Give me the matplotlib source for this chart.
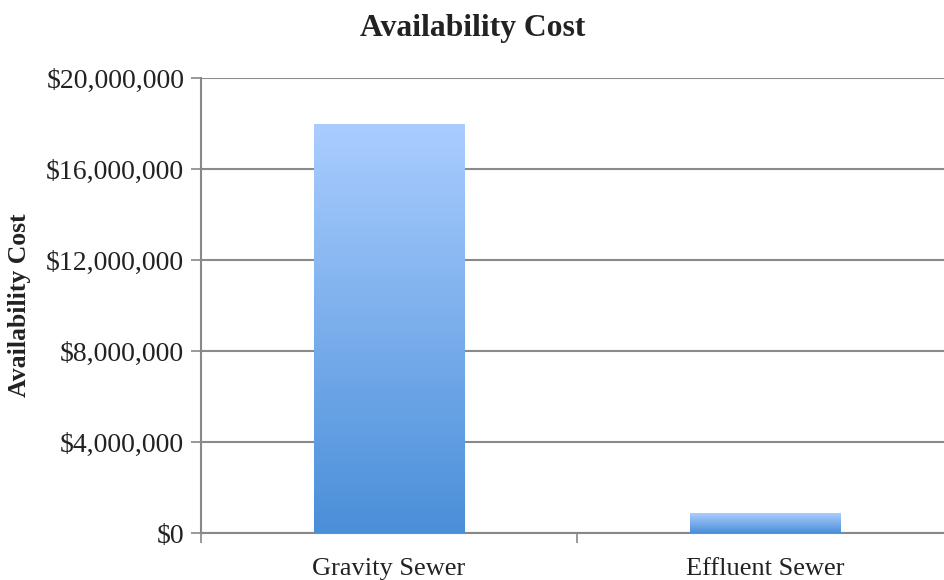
import numpy as np
import matplotlib
matplotlib.use('Agg')
import matplotlib.pyplot as plt
from matplotlib.colors import LinearSegmentedColormap
from matplotlib.ticker import FuncFormatter, MultipleLocator

plt.rcParams['font.family'] = ['Liberation Serif', 'DejaVu Serif']

# datos
categorias = ['Gravity Sewer', 'Effluent Sewer']
costos = [18000000, 870000]

fig = plt.figure(figsize=(9.45, 5.8), dpi=100)
ax = fig.add_axes([0.2127, 0.081, 0.7958, 0.7845])

x = np.arange(len(categorias))
barras = ax.bar(x, costos, width=0.40, color='none', edgecolor='none', zorder=3)

# degradado vertical dentro de cada barra (claro arriba, oscuro abajo)
cmap = LinearSegmentedColormap.from_list('azul', ['#4A8FD9', '#AACDFF'])
grad = np.linspace(0, 1, 256).reshape(-1, 1)
for b in barras:
    x0, y0 = b.get_x(), b.get_y()
    w, h = b.get_width(), b.get_height()
    im = ax.imshow(grad, cmap=cmap, origin='lower', aspect='auto',
                   extent=[x0, x0 + w, y0, y0 + h], zorder=3)
    im.set_clip_path(b)

ax.set_xlim(-0.5, 1.5)
ax.set_ylim(0, 20000000)
ax.yaxis.set_major_locator(MultipleLocator(4000000))
ax.yaxis.set_major_formatter(FuncFormatter(lambda v, p: '${:,.0f}'.format(v)))

ax.set_xticks(x)
ax.set_xticklabels(categorias)
ax.set_xticks([-0.5, 0.5, 1.5], minor=True)
ax.tick_params(axis='x', which='major', length=0, pad=18, labelsize=19, colors='#222222')
ax.tick_params(axis='x', which='minor', length=7, width=1.2, color='#888888')
ax.tick_params(axis='y', length=7, width=1.2, color='#888888', labelsize=20,
               labelcolor='#222222', pad=5)

ax.grid(axis='y', color='#8a8a8a', linewidth=1.5, zorder=0)
ax.set_axisbelow(True)
for s in ['top', 'right']:
    ax.spines[s].set_visible(False)
for s in ['left', 'bottom']:
    ax.spines[s].set_color('#888888')
    ax.spines[s].set_linewidth(1.5)

fig.text(20 / 945, 0.5 * (0.081 + 0.081 + 0.7845), 'Availability Cost', rotation=90,
         ha='center', va='center', fontsize=18.5, fontweight='bold', color='#222222')
fig.text(0.5, 0.951, 'Availability Cost', ha='center', va='center',
         fontsize=22.8, fontweight='bold', color='#222222')

plt.savefig('out.png', dpi=100)
